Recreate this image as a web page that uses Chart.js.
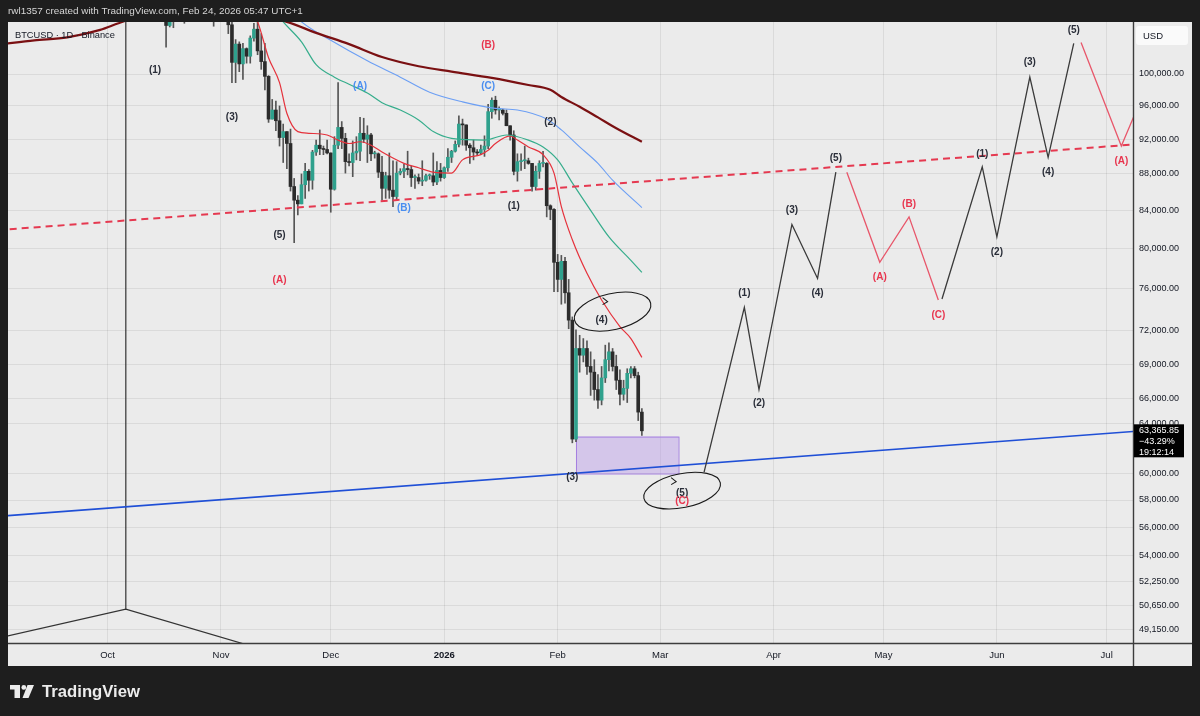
<!DOCTYPE html>
<html>
<head>
<meta charset="utf-8">
<title>BTCUSD 1D</title>
<script src="https://cdn.jsdelivr.net/npm/chart.js@4.4.1/dist/chart.umd.min.js"></script>
<style>
  html, body { margin: 0; padding: 0; background: #1e1e1e; }
  canvas { display: block; }
</style>
</head>
<body>
<canvas id="chart" width="1200" height="716"></canvas>
<script>
// --- data ---
const headerText = 'rwl1357 created with TradingView.com, Feb 24, 2026 05:47 UTC+1';
const symbolText = 'BTCUSD \u00b7 1D \u00b7 Binance';
const tagChange = '\u221243.29%';
const tagTimer = '19:12:14';

const monthTicks = ['2025-10-01', '2025-11-01', '2025-12-01', '2026-01-01', '2026-02-01', '2026-03-01', '2026-04-01', '2026-05-01', '2026-06-01', '2026-07-01'];
const monthLabels = ['Oct', 'Nov', 'Dec', '2026', 'Feb', 'Mar', 'Apr', 'May', 'Jun', 'Jul'];
const priceTicks = [100000, 96000, 92000, 88000, 84000, 80000, 76000, 72000, 69000, 66000, 64000, 60000, 58000, 56000, 54000, 52250, 50650, 49150];

// daily candles, one per day from firstCandle
const firstCandle = '2025-10-16';
const opens = [
  111000, 108200, 106400, 107200, 108600, 110500, 108400, 107600, 110000, 111000, 111600, 114500, 114100, 112900, 110000, 108300,
  109600, 110100, 110500, 106500, 101500, 103900, 101300, 103300, 102300, 104700, 105900, 103000, 101600, 99700, 94400, 95500, 94200, 92200, 92900, 91500, 86600, 85100, 84700, 86800, 88300, 87300, 90500, 91300, 90900, 90800,
  90400, 86300, 91300, 93400, 92100, 89400, 89300, 90400, 90600, 92700, 92000, 92500, 90300, 90300, 88200, 86400, 87800, 86200, 85500, 88100, 88300, 88600, 88500, 87600, 87600, 87200, 87300, 87800, 87800, 87100, 88400,
  87600, 88700, 89900, 90600, 91400, 93800, 93700, 91300, 91000, 90500, 90400, 90800, 91200, 95300, 96700, 95500, 95500, 95100, 93600, 92500, 88300, 89400, 89500, 89500, 89200, 86600, 88300, 89200, 89200, 84500, 84100,
  78600, 76900, 78700, 75600, 73000, 62700, 70400, 69800, 70400, 68800, 68300, 66800, 65900, 67800, 69400, 70100, 68800, 67600, 66400, 66900, 68200, 68600, 68000, 64900
];
const highs = [
  111900, 109200, 107500, 109400, 111700, 114000, 109000, 110600, 112000, 111900, 115000, 116400, 116100, 113600, 111600, 111200,
  110600, 111200, 110800, 107300, 104500, 104200, 104000, 103400, 105000, 106700, 107500, 105300, 104000, 99800, 96800, 96600, 96000, 93800, 92900, 93200, 87500, 85600, 88000, 89200, 88500, 90700, 91900, 93100, 91200, 91900,
  90400, 92300, 98900, 94100, 92700, 90300, 91800, 92300, 94600, 94500, 93600, 92700, 90600, 90400, 90000, 88200, 90400, 89500, 89400, 88600, 89100, 90600, 88900, 87900, 88000, 89500, 88000, 88000, 90400, 89400, 89200,
  88800, 90900, 90700, 91800, 94800, 94400, 93700, 91500, 91900, 90800, 91300, 92400, 96200, 97000, 97200, 95900, 95600, 95500, 93600, 93000, 90300, 90300, 91200, 89800, 89200, 88900, 89500, 90600, 89300, 84600, 84200,
  79400, 79300, 79100, 76900, 73300, 72100, 71600, 71300, 71100, 70100, 69400, 68100, 68800, 70700, 70900, 70400, 69800, 68500, 67600, 68600, 68800, 68800, 68300, 65200
];
const lows = [
  107400, 103500, 106200, 106100, 107500, 107400, 106700, 107500, 109700, 110600, 111200, 113800, 112200, 109500, 106300, 108200,
  109400, 109500, 105300, 98900, 98900, 100300, 99300, 101400, 101400, 104300, 102500, 100600, 98000, 94000, 94400, 93000, 91200, 89300, 88600, 86100, 80600, 83500, 84700, 85300, 86100, 86300, 90100, 90200, 90200, 90300,
  83800, 86200, 90900, 90900, 88100, 88900, 87700, 89600, 89500, 91600, 89300, 89500, 89800, 87600, 85100, 85300, 85300, 84400, 85100, 87900, 87600, 87900, 86600, 86400, 86900, 86700, 87200, 87400, 86700, 86800, 87200,
  87500, 88300, 89300, 90500, 91100, 91300, 90700, 89200, 89600, 90100, 90200, 90000, 90900, 94500, 95000, 94300, 94900, 93600, 91900, 87900, 87200, 88400, 88600, 89100, 86100, 86200, 87500, 88800, 83300, 83000, 75700,
  75700, 74500, 74600, 72200, 62400, 62500, 68300, 69200, 68100, 66300, 65900, 65200, 65500, 67400, 68400, 68400, 66800, 65500, 65900, 65700, 67800, 67800, 64200, 63000
];
const closes = [
  108200, 106400, 107200, 108600, 110500, 108400, 107600, 110000, 111000, 111600, 114500, 114100, 112900, 110000, 108300, 109600,
  110100, 110500, 106500, 101500, 103900, 101300, 103300, 102300, 104700, 105900, 103000, 101600, 99700, 94400, 95500, 94200, 92200, 92900, 91500, 86600, 85100, 84700, 86800, 88300, 87300, 90500, 91300, 90900, 90800, 90400,
  86300, 91300, 93400, 92100, 89400, 89300, 90400, 90600, 92700, 92000, 92500, 90300, 90300, 88200, 86400, 87800, 86200, 85500, 88100, 88300, 88600, 88500, 87600, 87600, 87200, 87300, 87800, 87800, 87100, 88400, 87600,
  88700, 89900, 90600, 91400, 93800, 93700, 91300, 91000, 90500, 90400, 90800, 91200, 95300, 96700, 95500, 95500, 95100, 93600, 92500, 88300, 89400, 89500, 89500, 89200, 86600, 88300, 89200, 89200, 84500, 84100, 78600,
  76900, 78700, 75600, 73000, 62700, 70400, 69800, 70400, 68800, 68300, 66800, 65900, 67800, 69400, 70100, 68800, 67600, 66400, 66900, 68200, 68600, 68000, 64900, 63365.85
];

// moving averages
const maRedDates = ['2025-11-09', '2025-11-11', '2025-11-14', '2025-11-17', '2025-11-19', '2025-11-22', '2025-11-25', '2025-11-30', '2025-12-03', '2025-12-06', '2025-12-09', '2025-12-12', '2025-12-15', '2025-12-21', '2025-12-25', '2025-12-29', '2026-01-03', '2026-01-06', '2026-01-11', '2026-01-13', '2026-01-15', '2026-01-19', '2026-01-21', '2026-01-24', '2026-01-28', '2026-01-31', '2026-02-02', '2026-02-05', '2026-02-09', '2026-02-13', '2026-02-18', '2026-02-21', '2026-02-24'];
const maRedVals = [108500, 106900, 102100, 98900, 95100, 92900, 92700, 92500, 91900, 91500, 91700, 91300, 90500, 89200, 88700, 88200, 88100, 89600, 90200, 90700, 91500, 92400, 91900, 91100, 90200, 88100, 84400, 80900, 77500, 74900, 72400, 71300, 69600];
const maTealDates = ['2025-11-14', '2025-11-18', '2025-11-23', '2025-11-27', '2025-12-02', '2025-12-06', '2025-12-11', '2025-12-15', '2025-12-20', '2025-12-25', '2025-12-29', '2026-01-03', '2026-01-12', '2026-01-18', '2026-01-24', '2026-01-28', '2026-02-01', '2026-02-05', '2026-02-10', '2026-02-15', '2026-02-21', '2026-02-24'];
const maTealVals = [109500, 106900, 104200, 101200, 99600, 98700, 97600, 96400, 95500, 94300, 92900, 92100, 91900, 92500, 91900, 91100, 89600, 87000, 84000, 81200, 78800, 77600];
const maBlueDates = ['2025-11-18', '2025-11-23', '2025-12-01', '2025-12-11', '2025-12-20', '2025-12-28', '2026-01-06', '2026-01-15', '2026-01-21', '2026-01-29', '2026-02-02', '2026-02-07', '2026-02-12', '2026-02-16', '2026-02-24'];
const maBlueVals = [109500, 106900, 104400, 101700, 99600, 97700, 96500, 95700, 95500, 94400, 93100, 91100, 89200, 87300, 84300];
const maLongDates = ['2025-09-02', '2025-09-11', '2025-09-20', '2025-09-29', '2025-10-04', '2025-10-15', '2025-11-01', '2025-11-19', '2025-11-27', '2025-12-06', '2025-12-15', '2025-12-25', '2026-01-03', '2026-01-14', '2026-01-24', '2026-01-30', '2026-02-02', '2026-02-07', '2026-02-12', '2026-02-17', '2026-02-24'];
const maLongVals = [103900, 104400, 104800, 105800, 106700, 108500, 108800, 106900, 105400, 103900, 102200, 101000, 100300, 99500, 98600, 98000, 97100, 95900, 94600, 93300, 91700];

// drawings
const dashDates = ['2025-09-01', '2026-07-12'];
const dashVals = [81900, 91500];
const supportDates = ['2025-09-01', '2026-07-12'];
const supportVals = [56800, 63400];
const vLineDates = ['2025-10-06', '2025-10-06'];
const vLineVals = [50450, 130000];
const angleDates = ['2025-09-01', '2025-10-06', '2025-11-08'];
const angleVals = [48600, 50450, 48200];
const wave1Dates = ['2026-03-13', '2026-03-24', '2026-03-28', '2026-04-06', '2026-04-13', '2026-04-18'];
const wave1Vals = [60100, 74200, 66800, 82500, 77000, 88200];
const abc1Dates = ['2026-04-21', '2026-04-30', '2026-05-08', '2026-05-16'];
const abc1Vals = [88200, 78600, 83300, 74900];
const wave2Dates = ['2026-05-17', '2026-05-28', '2026-06-01', '2026-06-10', '2026-06-15', '2026-06-22'];
const wave2Vals = [75000, 88800, 81200, 99600, 89900, 104000];
const abc2Dates = ['2026-06-24', '2026-07-05', '2026-07-10'];
const abc2Vals = [104100, 91200, 96400];
const zoneDates = ['2026-02-06', '2026-03-06'];
const zoneVals = [62900, 60000];
const circleDates = ['2026-02-16', '2026-03-07'];
const circleVals = [73800, 58700];

// wave labels: [date, price, text]
const blackLabels = [
  ['2025-10-14', 100500, '(1)'], ['2025-11-04', 94600, '(3)'], ['2025-11-17', 81400, '(5)'],
  ['2026-01-30', 94000, '(2)'], ['2026-01-20', 84400, '(1)'], ['2026-02-05', 59700, '(3)'],
  ['2026-02-13', 73000, '(4)'], ['2026-03-07', 58500, '(5)'],
  ['2026-03-24', 75600, '(1)'], ['2026-03-28', 65600, '(2)'], ['2026-04-06', 84000, '(3)'],
  ['2026-04-13', 75600, '(4)'], ['2026-04-18', 89800, '(5)'],
  ['2026-05-28', 90300, '(1)'], ['2026-06-01', 79600, '(2)'], ['2026-06-10', 101500, '(3)'],
  ['2026-06-15', 88200, '(4)'], ['2026-06-22', 105800, '(5)']
];
const redLabels = [
  ['2025-11-17', 76800, '(A)'], ['2026-01-13', 103800, '(B)'], ['2026-03-07', 57900, '(C)'],
  ['2026-04-30', 77100, '(A)'], ['2026-05-08', 84700, '(B)'], ['2026-05-16', 73500, '(C)'],
  ['2026-07-05', 89400, '(A)']
];
const blueLabels = [
  ['2025-12-09', 98500, '(A)'], ['2025-12-21', 84200, '(B)'], ['2026-01-13', 98400, '(C)']
];

// --- helpers ---
const epoch = Date.UTC(2025, 9, 1);
function dayIdx(s) {
  const [y, m, d] = s.split('-').map(Number);
  return (Date.UTC(y, m - 1, d) - epoch) / 86400000;
}
function pts(dates, vals) {
  return dates.map((d, i) => ({ x: dayIdx(d), y: vals[i] }));
}
function fmtPrice(v) {
  return v.toLocaleString('en-US', { minimumFractionDigits: 2, maximumFractionDigits: 2 });
}
function fitFont(c, text, weight, family, width) {
  c.font = weight + ' 20px ' + family;
  const size = 20 * width / c.measureText(text).width;
  c.font = weight + ' ' + size.toFixed(2) + 'px ' + family;
}

const FONT = '"Liberation Sans", Arial, sans-serif';
const c0 = dayIdx(firstCandle);
const candleX = opens.map((_, i) => c0 + i);
const isUp = opens.map((o, i) => closes[i] >= o);

function lineSet(label, data, color, width, extra) {
  return Object.assign({
    type: 'line', label, data, borderColor: color, borderWidth: width,
    pointRadius: 0, fill: false, tension: 0, clip: 0, order: 2
  }, extra || {});
}

// --- plugins ---
const framePlugin = {
  id: 'frame',
  beforeDraw(chart) {
    const c = chart.ctx, a = chart.chartArea;
    const panelR = a.right + chart.scales.y.width;
    const panelB = a.bottom + chart.scales.x.height;
    c.save();
    c.fillStyle = '#1e1e1e';
    c.fillRect(0, 0, chart.width, chart.height);
    c.fillStyle = '#ebebeb';
    c.fillRect(a.left, a.top, panelR - a.left, panelB - a.top);
    c.restore();
  },
  beforeDatasetsDraw(chart) {
    const c = chart.ctx, a = chart.chartArea, x = chart.scales.x, y = chart.scales.y;
    const x0 = x.getPixelForValue(dayIdx(zoneDates[0])), x1 = x.getPixelForValue(dayIdx(zoneDates[1]));
    const y0 = y.getPixelForValue(zoneVals[0]), y1 = y.getPixelForValue(zoneVals[1]);
    c.save();
    c.beginPath();
    c.rect(a.left, a.top, a.right - a.left, a.bottom - a.top);
    c.clip();
    c.fillStyle = 'rgba(175, 140, 235, 0.38)';
    c.fillRect(x0, y0, x1 - x0, y1 - y0);
    c.strokeStyle = '#a57fe0';
    c.lineWidth = 1;
    c.strokeRect(x0 + 0.5, y0 + 0.5, x1 - x0, y1 - y0);
    c.restore();
  },
  afterDatasetsDraw(chart) {
    const c = chart.ctx, a = chart.chartArea, x = chart.scales.x, y = chart.scales.y;
    c.save();
    c.beginPath();
    c.rect(a.left, a.top, a.right - a.left, a.bottom - a.top);
    c.clip();

    // hand drawn circles with arrow heads
    const radii = [[39, 18, -0.22], [39, 17, -0.2]];
    const arrows = [[-7, -10], [-8, -9]];
    c.strokeStyle = '#1a1a1a';
    c.lineWidth = 1.1;
    circleDates.forEach((d, i) => {
      const cx = x.getPixelForValue(dayIdx(d)), cy = y.getPixelForValue(circleVals[i]);
      c.beginPath();
      c.ellipse(cx, cy, radii[i][0], radii[i][1], radii[i][2], 0, Math.PI * 2);
      c.stroke();
      const ax = cx + arrows[i][0], ay = cy + arrows[i][1];
      c.beginPath();
      c.moveTo(ax - 3, ay - 4);
      c.lineTo(ax + 2, ay);
      c.lineTo(ax - 3, ay + 3);
      c.stroke();
    });

    // wave labels
    c.font = 'bold 10px ' + FONT;
    c.textAlign = 'center';
    c.textBaseline = 'middle';
    [[blackLabels, '#2a2e39'], [redLabels, '#e8364f'], [blueLabels, '#4a8ef0']].forEach(([list, color]) => {
      c.fillStyle = color;
      list.forEach(([d, v, t]) => c.fillText(t, x.getPixelForValue(dayIdx(d)), y.getPixelForValue(v)));
    });

    // symbol legend
    c.textAlign = 'left';
    c.fillStyle = '#131722';
    fitFont(c, symbolText, 'normal', FONT, 100);
    c.fillText(symbolText, a.left + 7, a.top + 13);
    c.restore();
  },
  afterDraw(chart) {
    const c = chart.ctx, a = chart.chartArea, y = chart.scales.y;
    const panelR = a.right + chart.scales.y.width;
    const panelB = a.bottom + chart.scales.x.height;
    c.save();

    // axis separators
    c.strokeStyle = '#3c3c3c';
    c.lineWidth = 1.4;
    c.beginPath();
    c.moveTo(a.left, a.bottom + 0.5);
    c.lineTo(panelR, a.bottom + 0.5);
    c.moveTo(a.right + 0.5, a.top);
    c.lineTo(a.right + 0.5, panelB);
    c.stroke();

    // USD box
    c.fillStyle = '#fafafa';
    c.beginPath();
    c.roundRect(a.right + 3, a.top + 4, 52, 19, 3);
    c.fill();
    c.fillStyle = '#131722';
    c.font = '9.5px ' + FONT;
    c.textBaseline = 'middle';
    c.textAlign = 'left';
    c.fillText('USD', a.right + 10, a.top + 14);

    // last price tag
    const last = closes[closes.length - 1];
    const ly = y.getPixelForValue(last);
    c.fillStyle = '#000000';
    c.fillRect(a.right + 1, ly - 6.5, 50, 33);
    c.fillStyle = '#ffffff';
    c.font = '9px ' + FONT;
    c.fillText(fmtPrice(last), a.right + 6, ly);
    c.fillText(tagChange, a.right + 6, ly + 11);
    c.fillText(tagTimer, a.right + 6, ly + 22);

    // header
    c.fillStyle = '#d6d6d6';
    fitFont(c, headerText, 'normal', FONT, 295);
    c.fillText(headerText, 8, 11.5);

    // footer logo
    const fy = panelB + 19;
    c.fillStyle = '#ececec';
    c.fillRect(10, fy, 10, 4.5);
    c.fillRect(14.5, fy, 5.5, 13);
    c.beginPath();
    c.arc(23.8, fy + 2.4, 2.4, 0, Math.PI * 2);
    c.fill();
    c.beginPath();
    c.moveTo(27.5, fy);
    c.lineTo(34, fy);
    c.lineTo(28.5, fy + 13);
    c.lineTo(22.5, fy + 13);
    c.closePath();
    c.fill();
    fitFont(c, 'TradingView', 'bold', FONT, 98);
    c.fillText('TradingView', 42, fy + 7);
    c.restore();
  }
};

// --- chart ---
const ctx = document.getElementById('chart').getContext('2d');
new Chart(ctx, {
  type: 'bar',
  data: {
    datasets: [
      lineSet('projection red 2', pts(abc2Dates, abc2Vals), '#e8566a', 1.3, { order: 1 }),
      lineSet('projection black 2', pts(wave2Dates, wave2Vals), '#3a3a3a', 1.3, { order: 1 }),
      lineSet('projection red 1', pts(abc1Dates, abc1Vals), '#e8566a', 1.3, { order: 1 }),
      lineSet('projection black 1', pts(wave1Dates, wave1Vals), '#3a3a3a', 1.3, { order: 1 }),
      lineSet('support', pts(supportDates, supportVals), '#1f4fd6', 1.6, { order: 1 }),
      lineSet('resistance', pts(dashDates, dashVals), '#e53950', 2, { order: 1, borderDash: [7, 5] }),
      lineSet('vertical', pts(vLineDates, vLineVals), '#333333', 1.2, { order: 1 }),
      lineSet('angle', pts(angleDates, angleVals), '#333333', 1.2, { order: 1 }),
      lineSet('MA long', pts(maLongDates, maLongVals), '#7a1012', 2.2, { cubicInterpolationMode: 'monotone', order: 3 }),
      lineSet('MA blue', pts(maBlueDates, maBlueVals), '#6c9ff4', 1.1, { cubicInterpolationMode: 'monotone', order: 3 }),
      lineSet('MA teal', pts(maTealDates, maTealVals), '#36ad8c', 1.2, { cubicInterpolationMode: 'monotone', order: 3 }),
      lineSet('MA red', pts(maRedDates, maRedVals), '#e5323c', 1.2, { cubicInterpolationMode: 'monotone', order: 3 }),
      {
        label: 'wicks',
        data: candleX.map((x, i) => ({ x, y: [lows[i], highs[i]] })),
        backgroundColor: '#555555',
        barThickness: 1, grouped: false, borderWidth: 0, clip: 0, order: 6
      },
      {
        label: 'bodies',
        data: candleX.map((x, i) => ({ x, y: [opens[i], closes[i]] })),
        backgroundColor: isUp.map(u => u ? '#2fa18d' : '#2b2b2b'),
        barThickness: 3, grouped: false, borderWidth: 0, minBarLength: 1, clip: 0, order: 5
      }
    ]
  },
  options: {
    responsive: false,
    animation: false,
    devicePixelRatio: 1,
    events: [],
    layout: { padding: { left: 8, top: 22, right: 8, bottom: 50 } },
    plugins: { legend: { display: false }, tooltip: { enabled: false } },
    scales: {
      x: {
        type: 'linear',
        position: 'bottom',
        min: -27.19,
        max: 280.19,
        offset: false,
        afterBuildTicks: s => { s.ticks = monthTicks.map(d => ({ value: dayIdx(d) })); },
        afterFit: s => { s.height = 23; },
        grid: { color: 'rgba(0,0,0,0.07)', drawTicks: false, offset: false },
        border: { display: false },
        ticks: {
          autoSkip: false,
          maxRotation: 0,
          padding: 7,
          color: '#131722',
          font: c => ({ family: FONT, size: 9.5, weight: c.tick && c.tick.label === '2026' ? 'bold' : 'normal' }),
          callback: (v, i) => monthLabels[i]
        }
      },
      y: {
        type: 'logarithmic',
        position: 'right',
        min: 48308,
        max: 106877,
        afterBuildTicks: s => { s.ticks = priceTicks.map(v => ({ value: v })); },
        afterFit: s => { s.width = 59; },
        grid: { color: 'rgba(0,0,0,0.07)', drawTicks: false },
        border: { display: false },
        ticks: {
          autoSkip: false,
          padding: 6,
          color: '#131722',
          font: { family: FONT, size: 9 },
          callback: v => fmtPrice(v)
        }
      }
    }
  },
  plugins: [framePlugin]
});
</script>
</body>
</html>
